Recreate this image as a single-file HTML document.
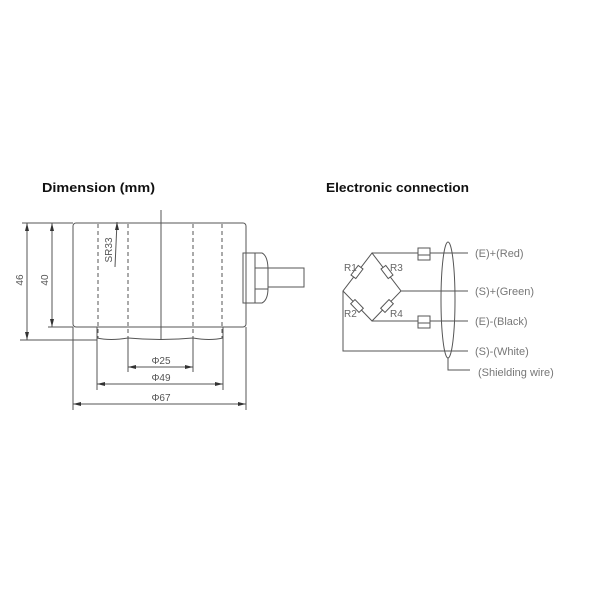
<!DOCTYPE html>
<html><head><meta charset="utf-8"><style>body{margin:0;background:#fff}svg{display:block}</style></head><body>
<svg width="600" height="600" viewBox="0 0 600 600" xmlns="http://www.w3.org/2000/svg" font-family="Liberation Sans, sans-serif">
<rect width="600" height="600" fill="#fff"/>
<g font-weight="bold" font-size="13" fill="#111">
<text x="42" y="192" textLength="113" lengthAdjust="spacingAndGlyphs">Dimension  (mm)</text>
<text x="326" y="192" textLength="143" lengthAdjust="spacingAndGlyphs">Electronic connection</text>
</g>
<g stroke="#555" stroke-width="1" fill="none">
<rect x="73" y="223" width="173" height="104" rx="3"/>
<path d="M97 327 V338 Q110 341 128 338 Q161 341 193 338 Q210 341 223 338 V327"/>
<g stroke-dasharray="4,3"><line x1="98" y1="224" x2="98" y2="338"/><line x1="128" y1="224" x2="128" y2="338"/><line x1="193" y1="224" x2="193" y2="338"/><line x1="222" y1="224" x2="222" y2="338"/></g>
<line x1="161" y1="210" x2="161" y2="340"/>
<path d="M243 253 H262 Q268 256 268 270 V288 Q268 300 262 303 H243 Z"/>
<line x1="255" y1="253" x2="255" y2="303"/>
<line x1="255" y1="268" x2="268" y2="268"/><line x1="255" y1="289" x2="268" y2="289"/>
<path d="M268 268 H304 V287 H268"/>
<line x1="22" y1="223" x2="73" y2="223"/><line x1="20" y1="340" x2="97" y2="340"/>
<line x1="27" y1="223" x2="27" y2="340"/>
<line x1="52" y1="223" x2="52" y2="327"/><line x1="48" y1="327" x2="73" y2="327"/>
<line x1="115" y1="267" x2="117" y2="222"/>
<line x1="73" y1="327" x2="73" y2="410"/><line x1="246" y1="327" x2="246" y2="410"/>
<line x1="97" y1="338" x2="97" y2="390"/><line x1="223" y1="338" x2="223" y2="390"/>
<line x1="128" y1="338" x2="128" y2="372"/><line x1="193" y1="338" x2="193" y2="372"/>
<line x1="128" y1="367" x2="193" y2="367"/><line x1="97" y1="384" x2="223" y2="384"/><line x1="73" y1="404" x2="246" y2="404"/>
</g>
<g fill="#333">
<path d="M27 223 l-2 8 h4z M27 340 l-2 -8 h4z M52 223 l-2 8 h4z M52 327 l-2 -8 h4z M117 222 l-2 8 h4z"/>
<path d="M128 367 l8 -2 v4z M193 367 l-8 -2 v4z M97 384 l8 -2 v4z M223 384 l-8 -2 v4z M73 404 l8 -2 v4z M246 404 l-8 -2 v4z"/>
</g>
<g font-size="10" fill="#555" text-anchor="middle">
<text transform="translate(23,280) rotate(-90)">46</text>
<text transform="translate(48,280) rotate(-90)">40</text>
<text transform="translate(112,250) rotate(-90)">SR33</text>
<text x="161" y="364">Φ25</text>
<text x="161" y="381">Φ49</text>
<text x="161" y="401">Φ67</text>
</g>
<g stroke="#555" stroke-width="1" fill="none">
<path d="M372 253 L343 291 L372 321 L401 291 Z"/>
<path d="M372 253 H468 M401 291 H468 M372 321 H468 M343 291 V351 H468"/>
<rect x="418" y="248" width="12" height="7" fill="#fff"/><rect x="418" y="255" width="12" height="5" fill="#fff"/>
<rect x="418" y="316" width="12" height="7" fill="#fff"/><rect x="418" y="323" width="12" height="5" fill="#fff"/>
<g fill="#fff">
<rect x="-3" y="-6" width="6" height="12" transform="translate(357,272) rotate(37)"/>
<rect x="-3" y="-6" width="6" height="12" transform="translate(387,272) rotate(-37)"/>
<rect x="-3" y="-6" width="6" height="12" transform="translate(357,306) rotate(-44)"/>
<rect x="-3" y="-6" width="6" height="12" transform="translate(387,306) rotate(44)"/>
</g>
<ellipse cx="448" cy="300" rx="7" ry="58"/>
<path d="M448 358 V370 H470"/>
</g>
<g font-size="10" fill="#666">
<text x="344" y="271">R1</text><text x="390" y="271">R3</text>
<text x="344" y="317">R2</text><text x="390" y="317">R4</text>
</g>
<g font-size="11" fill="#777">
<text x="475" y="257">(E)+(Red)</text>
<text x="475" y="295">(S)+(Green)</text>
<text x="475" y="325">(E)-(Black)</text>
<text x="475" y="355">(S)-(White)</text>
<text x="478" y="376">(Shielding wire)</text>
</g>
</svg>
</body></html>
